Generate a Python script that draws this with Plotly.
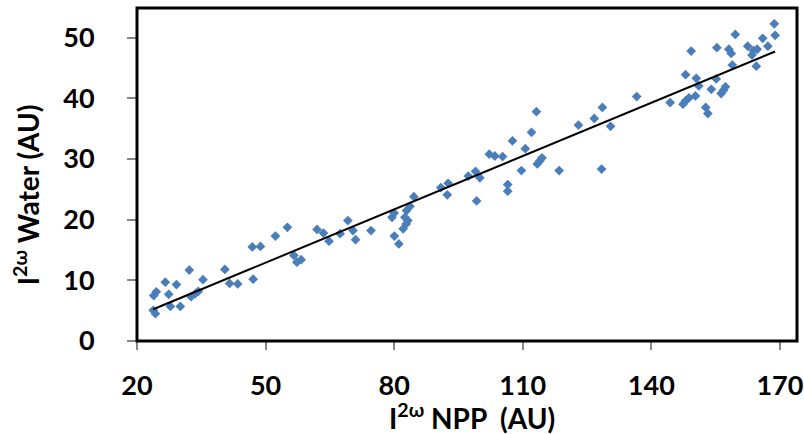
import numpy as np
import plotly.graph_objects as go

# Data
npp = [23.8, 24.3, 23.9, 24.5, 26.6, 27.4, 27.8, 29.2, 30.1, 32.2, 32.6, 33.6, 34.3, 35.4,
       40.5, 41.6, 43.5, 47.1, 46.9, 48.8, 52.3, 55.1, 56.6, 57.3, 58.3, 62.0, 63.5, 64.8,
       67.4, 69.2, 70.4, 71.0, 74.6, 79.5, 80.0, 80.05, 81.1, 82.1, 82.8, 83.2, 82.5, 82.9,
       83.7, 84.6, 90.9, 92.6, 92.4, 97.3, 99.0, 100.0, 99.25, 102.2, 103.5, 105.3, 106.5,
       106.5, 107.6, 109.7, 110.6, 112.05, 113.2, 113.4, 114.0, 114.5, 118.5, 123.0, 126.7,
       128.6, 128.4, 130.5, 136.6, 144.4, 147.4, 148.0, 148.8, 150.3, 148.0, 149.3, 150.5,
       151.1, 152.7, 153.2, 154.0, 155.15, 155.3, 156.3, 156.85, 157.3, 158.1, 158.65, 158.9,
       159.6, 162.5, 163.5, 163.8, 164.7, 164.5, 166.0, 167.2, 168.7, 168.9]
water = [5.05, 4.5, 7.5, 8.1, 9.7, 7.7, 5.7, 9.3, 5.7, 11.7, 7.3, 7.8, 8.2, 10.1,
         11.8, 9.5, 9.4, 10.2, 15.5, 15.6, 17.3, 18.75, 14.1, 13.0, 13.4, 18.4, 17.8, 16.45,
         17.7, 19.85, 18.2, 16.7, 18.2, 20.4, 21.1, 17.3, 16.0, 18.5, 19.3, 19.85, 20.4, 21.5,
         22.2, 23.8, 25.3, 26.0, 24.1, 27.2, 27.96, 26.9, 23.1, 30.8, 30.5, 30.4, 25.8,
         24.7, 33.0, 28.1, 31.7, 34.4, 37.8, 29.2, 29.7, 30.2, 28.1, 35.6, 36.7,
         38.5, 28.35, 35.4, 40.3, 39.3, 39.05, 39.6, 40.1, 40.4, 43.9, 47.8, 43.3,
         42.05, 38.5, 37.5, 41.5, 43.2, 48.35, 40.8, 41.35, 41.9, 48.1, 47.4, 45.5,
         50.55, 48.6, 47.15, 47.9, 48.1, 45.3, 49.9, 48.6, 52.3, 50.4]

x_ticks = [20, 50, 80, 110, 140, 170]
y_ticks = [0, 10, 20, 30, 40, 50]

# Linear trendline fitted to the data
slope, intercept = np.polyfit(npp, water, 1)
tx = [min(npp), max(npp)]
ty = [slope * v + intercept for v in tx]

FONT = "Lato"
FS_TICK = 27
FS_TITLE = 28

fig = go.Figure()
fig.add_trace(go.Scatter(
    x=npp, y=water, mode="markers",
    marker=dict(symbol="diamond", size=7.5, color="#4A7EBB", line=dict(width=0)),
    showlegend=False, hoverinfo="skip"))
fig.add_trace(go.Scatter(
    x=tx, y=ty, mode="lines", line=dict(color="black", width=2),
    showlegend=False, hoverinfo="skip"))

fig.update_layout(
    width=804, height=434,
    margin=dict(l=137, r=7, t=8, b=93, autoexpand=False),
    paper_bgcolor="white", plot_bgcolor="white",
    font=dict(family=FONT, size=FS_TICK, color="black"),
    xaxis=dict(range=[20, 174], tickvals=x_ticks, ticktext=[str(v) for v in x_ticks],
               showgrid=False, zeroline=False, showline=False, automargin=False,
               ticks="outside", ticklen=8, tickwidth=1.5, tickcolor="#868686",
               ticklabelstandoff=13, ticklabeloverflow="allow",
               tickfont=dict(family=FONT, size=FS_TICK, color="black", weight="bold")),
    yaxis=dict(range=[0, 54.9], tickvals=y_ticks, ticktext=[str(v) for v in y_ticks],
               showgrid=False, zeroline=False, showline=False, automargin=False,
               ticks="outside", ticklen=9, tickwidth=1.5, tickcolor="#868686",
               ticklabelstandoff=27, ticklabeloverflow="allow",
               tickfont=dict(family=FONT, size=FS_TICK, color="black", weight="bold")),
    shapes=[dict(type="rect", xref="paper", yref="paper", x0=0, y0=0, x1=1, y1=1,
                 line=dict(color="black", width=3), layer="above")],
    annotations=[
        dict(text="<b>I<sup>2ω</sup> NPP  (AU)</b>", xref="paper", yref="paper",
             x=0.508, y=-0.226, xanchor="center", yanchor="middle", showarrow=False,
             font=dict(family=FONT, size=FS_TITLE, color="black")),
        dict(text="<b>I<sup>2ω</sup> Water (AU)</b>", xref="paper", yref="paper",
             x=-0.168, y=0.438, xanchor="center", yanchor="middle", showarrow=False,
             textangle=-90, font=dict(family=FONT, size=FS_TITLE, color="black")),
    ],
)

fig.write_html("out.html", config={"displayModeBar": False},
               post_script="document.body.style.margin='0';document.body.style.overflow='hidden';")
